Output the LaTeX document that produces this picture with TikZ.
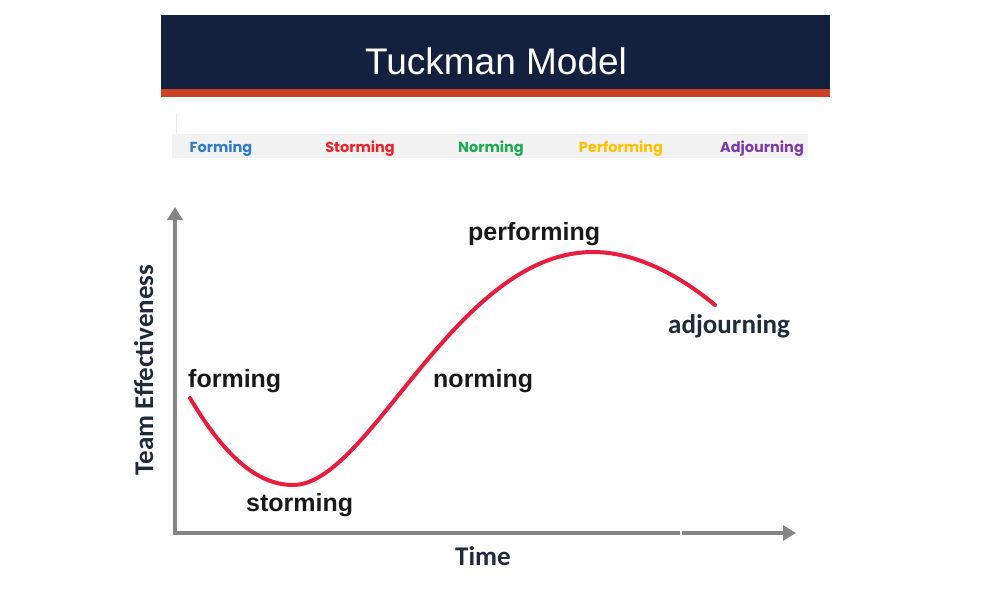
\documentclass[tikz,border=0pt]{standalone}
\usepackage{fontspec}
\setmainfont{Liberation Sans}
\newfontfamily\calib{Carlito}
\newfontfamily\gothic{Poppins}
\usetikzlibrary{arrows.meta}
\definecolor{navy}{HTML}{13213F}
\definecolor{stripe}{HTML}{CC4125}
\definecolor{axisgray}{HTML}{858585}
\definecolor{curvered}{HTML}{E81C3C}
\definecolor{txtnavy}{HTML}{1F2A3C}
\definecolor{cforming}{HTML}{2F7BC4}
\definecolor{cstorming}{HTML}{F0202A}
\definecolor{cnorming}{HTML}{1DAA50}
\definecolor{cperforming}{HTML}{FFC000}
\definecolor{cadjourning}{HTML}{7C3BA8}
\tikzset{
  stage/.style={font=\fontsize{25}{28}\selectfont\bfseries, text=black!90, inner sep=0pt},
  calibtxt/.style={font=\calib\fontsize{27}{30}\selectfont\bfseries, text=txtnavy, inner sep=0pt},
  striplabel/.style={font=\gothic\fontsize{14.5}{16}\selectfont\bfseries, inner sep=0pt, anchor=base},
  axisline/.style={draw=axisgray, line width=4pt, -{Triangle[length=13pt,width=15pt]}},
}
\begin{document}
\begin{tikzpicture}[x=1pt,y=-1pt]
\useasboundingbox (0,0) rectangle (1000,600);
% header
\fill[navy] (161,15) rectangle (830,89);
\fill[stripe] (161,89) rectangle (830,97);
\node[font=\fontsize{37}{40}\selectfont, text=white, anchor=base, inner sep=0pt] (title) at (496,74) {Tuckman Model};
% stage strip
\fill[black!5] (172,134) rectangle (808,158);
\draw[black!8, line width=1pt] (176,113) -- (176,134);
\node[striplabel, text=cforming] (sf) at (221,152) {Forming};
\node[striplabel, text=cstorming] (ss) at (360,152) {Storming};
\node[striplabel, text=cnorming] (sn) at (491,152) {Norming};
\node[striplabel, text=cperforming] (sp) at (621,152) {Performing};
\node[striplabel, text=cadjourning] (sa) at (762,152) {Adjourning};
% axes
\coordinate (origin) at (175,533);
\coordinate (ytop) at (175,207);
\coordinate (xend) at (796,533);
\draw[axisline] (175,535) -- (ytop);
\draw[axisline] (173,533) -- (xend);
\draw[white, line width=1.2pt] (681,530) -- (681,536);
% curve
\coordinate (c0) at (190,398);
\coordinate (cmin) at (293,485);
\coordinate (cmax) at (593,252);
\coordinate (c1) at (715,305);
\draw[curvered, line width=4pt, line cap=round]
  (c0) .. controls (222,452) and (255,485) .. (cmin)
       .. controls (370,485) and (455,252) .. (cmax)
       .. controls (640,252) and (685,280) .. (c1);
% labels
\node[stage, anchor=base west] (forming) at (188,387) {forming};
\node[stage, anchor=base west] (storming) at (246,511) {storming};
\node[stage, anchor=base west] (norming) at (433,387) {norming};
\node[stage, anchor=base west] (performing) at (468,240) {performing};
\node[calibtxt, anchor=base west] (adjourning) at (668,333) {adjourning};
\node[calibtxt, anchor=base west] (time) at (455,565) {Time};
\node[calibtxt, anchor=base, rotate=90] (effect) at (153,370) {Team Effectiveness};
\end{tikzpicture}
\end{document}
